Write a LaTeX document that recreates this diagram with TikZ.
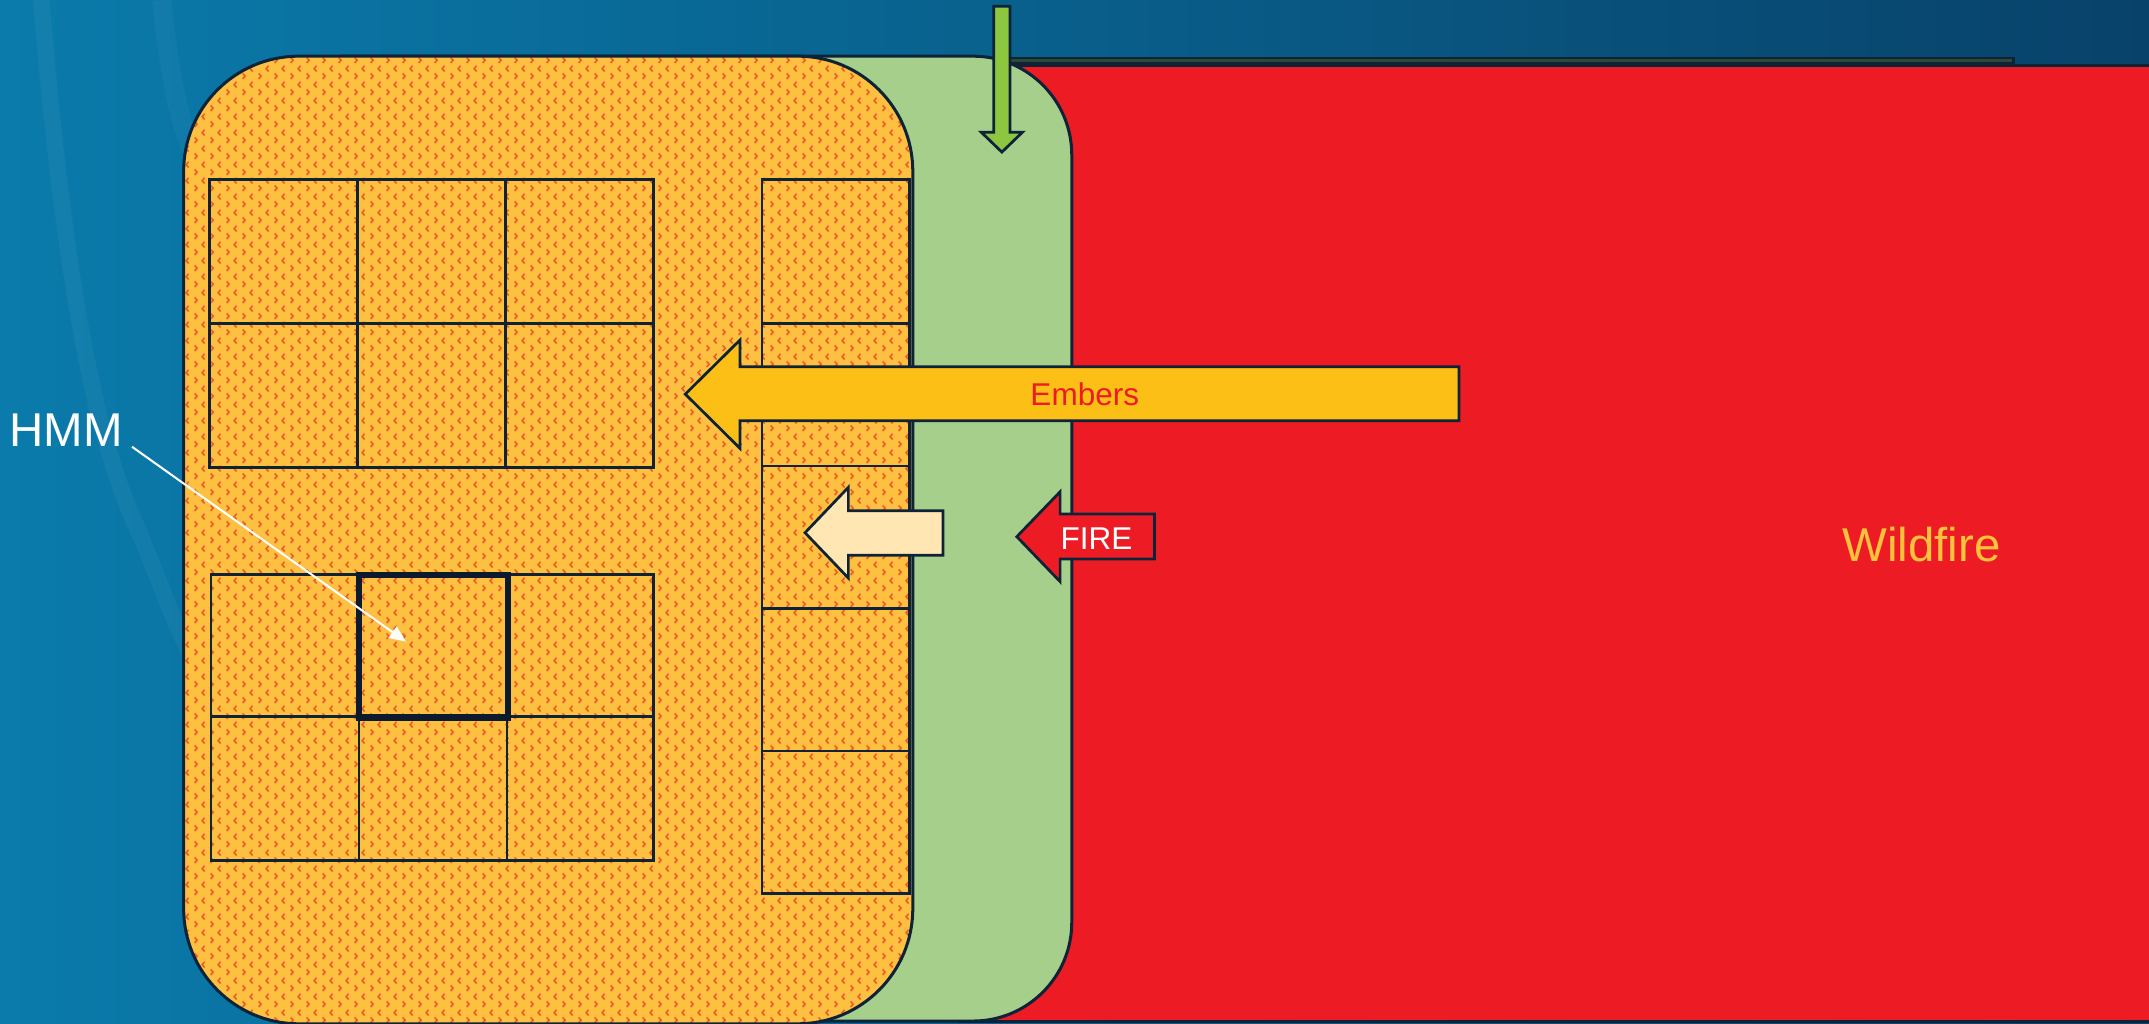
\documentclass[tikz,border=0pt]{standalone}
\usepackage{fontspec}
\setmainfont{Liberation Sans}
\usetikzlibrary{patterns.meta,arrows.meta}
\definecolor{navy}{HTML}{0E2238}
\definecolor{orng}{HTML}{FDC040}
\definecolor{dotred}{HTML}{F05A28}
\definecolor{grn}{HTML}{A6CF8C}
\definecolor{fire}{HTML}{ED1C24}
\definecolor{ember}{HTML}{FBBF16}
\definecolor{cream}{HTML}{FFE6B3}
\definecolor{garrow}{HTML}{8DC63F}
\definecolor{wild}{HTML}{FFC23D}
\definecolor{bgl}{HTML}{0A7BAB}
\definecolor{bgm}{HTML}{025C8C}
\definecolor{bgr}{HTML}{08426A}
\definecolor{bandg}{HTML}{2E4A34}
\pgfdeclarepattern{
  name=chevrons, type=uncolored,
  bottom left={\pgfpoint{0pt}{0pt}}, top right={\pgfpoint{5.84pt}{5.84pt}},
  tile size={\pgfpoint{5.84pt}{5.84pt}},
  code={
    \pgfsetlinewidth{0.6pt}
    \pgfpathmoveto{\pgfpoint{1.0pt}{2.55pt}}
    \pgfpathlineto{\pgfpoint{2.0pt}{1.46pt}}
    \pgfpathlineto{\pgfpoint{1.0pt}{0.37pt}}
    \pgfpathmoveto{\pgfpoint{4.9pt}{5.47pt}}
    \pgfpathlineto{\pgfpoint{3.9pt}{4.38pt}}
    \pgfpathlineto{\pgfpoint{4.9pt}{3.29pt}}
    \pgfusepath{stroke}
  }
}
\tikzset{
  outl/.style={draw=navy, line width=1.1pt, line join=miter},
  arrowshape/.style={draw=navy, line width=1pt, line join=miter},
  orangebox/.style={outl, pattern=chevrons, pattern color=dotred, preaction={fill=orng}},
  cell/.style={draw=navy, line width=1pt},
  boldcell/.style={draw=navy!80!black, line width=2.3pt},
  lbl/.style={inner sep=0pt, anchor=base},
  streak/.style={draw=white, draw opacity=0.045, line width=6pt},
}
\begin{document}
\begin{tikzpicture}[x=0.5pt, y=-0.5pt]
\useasboundingbox (0,0) rectangle (1568,747);
\clip (0,0) rectangle (1568,747);
% background
\shade[left color=bgl, middle color=bgm, right color=bgr] (0,0) rectangle (1568,747);
\path[streak] (30,0) .. controls (45,180) and (65,310) .. (100,385) .. controls (115,420) and (125,450) .. (140,480);
\path[streak, line width=7pt, draw opacity=0.035] (118,0) .. controls (122,40) and (128,80) .. (140,110);
% red wildfire area
\path[outl, fill=bandg, line width=0.9pt] (700,42.5) rectangle (1469,46.5);
\path[outl, fill=fire] (700,47.8) rectangle (1590,745);
% green buffer
\path[outl, fill=grn] (250,41) [rounded corners=36pt] -- (782,41) -- (782,745) [sharp corners] -- (250,745) -- cycle;
% orange zone
\path[orangebox, rounded corners=42pt] (134,41) rectangle (666,747);
% top grid
\foreach \x in {153,261,369} {
  \foreach \y in {131,236} {
    \draw[cell] (\x,\y) rectangle ++(108,105);
  }
}
% bottom grid
\foreach \x/\w in {154/108,262/108,370/107} {
  \draw[cell] (\x,419) rectangle ++(\w,104);
  \draw[cell] (\x,523) rectangle ++(\w,105);
}
\draw[boldcell] (262,419.5) rectangle (370.5,523.5);
% right column
\foreach \y/\h in {131/105,236/104,340/104,444/104,548/104} {
  \draw[cell] (556,\y) rectangle ++(107.5,\h);
}
% arrows
\path[arrowshape, fill=ember] (500,287.6) -- (540,248) -- (540,267.6) -- (1064.5,267.6) -- (1064.5,307) -- (540,307) -- (540,327.2) -- cycle;
\node[lbl, text=fire, font=\fontsize{11.5}{13}\selectfont] (embers) at (791.5,296.2) {Embers};
\path[arrowshape, fill=cream] (587.4,388.7) -- (619,355.6) -- (619,372.6) -- (688,372.6) -- (688,405.2) -- (619,405.2) -- (619,421.8) -- cycle;
\path[arrowshape, fill=fire] (741.9,391.6) -- (773.5,358.8) -- (773.5,375) -- (842.4,375) -- (842.4,407.9) -- (773.5,407.9) -- (773.5,424.4) -- cycle;
\node[lbl, text=white, font=\fontsize{11.5}{13}\selectfont] (fire) at (800,400.8) {FIRE};
\path[arrowshape, fill=garrow] (725,4.5) -- (737,4.5) -- (737,96.5) -- (746,96.5) -- (731,111) -- (716,96.5) -- (725,96.5) -- cycle;
% labels
\node[lbl, text=wild, font=\fontsize{17.3}{20}\selectfont] (wildfire) at (1402,409.8) {Wildfire};
\node[lbl, anchor=base west, text=white, font=\fontsize{17.3}{20}\selectfont] (hmm) at (6.5,326) {HMM};
\coordinate (hmmtip) at (296.2,468.2);
\draw[white, line width=0.75pt, -{Triangle[length=6pt,width=5pt]}] ([xshift=3.2pt]hmm.base east) -- (hmmtip);
\end{tikzpicture}
\end{document}
